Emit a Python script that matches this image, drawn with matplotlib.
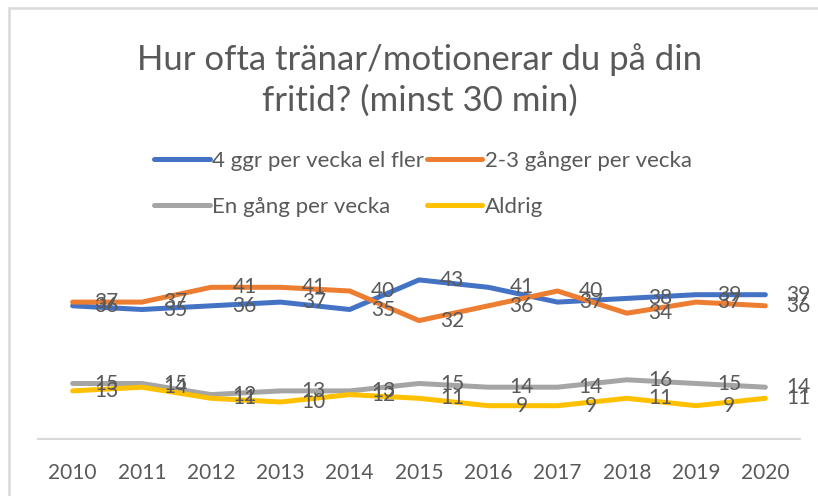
import matplotlib
matplotlib.use("Agg")
import matplotlib.pyplot as plt
from matplotlib.patches import Rectangle

plt.rcParams['font.family'] = ['Lato', 'DejaVu Sans']

years = ["2010", "2011", "2012", "2013", "2014", "2015", "2016", "2017", "2018", "2019", "2020"]

fyra_ggr = [36, 35, 36, 37, 35, 43, 41, 37, 38, 39, 39]
tva_tre_ggr = [37, 37, 41, 41, 40, 32, 36, 40, 34, 37, 36]
en_gang = [15, 15, 12, 13, 13, 15, 14, 14, 16, 15, 14]
aldrig = [13, 14, 11, 10, 12, 11, 9, 9, 11, 9, 11]

series = [
    ("4 ggr per vecka el fler", fyra_ggr, "#4472C4"),
    ("2-3 gånger per vecka", tva_tre_ggr, "#ED7D31"),
    ("En gång per vecka", en_gang, "#A5A5A5"),
    ("Aldrig", aldrig, "#FFC000"),
]

TEXT = "#595959"

fig = plt.figure(figsize=(8.18, 4.96), dpi=100)
ax = fig.add_axes([38 / 818, 57 / 496, 762 / 818, 185 / 496])

x = list(range(len(years)))
lines = []
for name, vals, color in series:
    ln, = ax.plot(x, vals, color=color, lw=3.6, label=name,
                  solid_capstyle="round", solid_joinstyle="round")
    lines.append(ln)

# data labels sit to the right of each point (like the excel chart)
for name, vals, color in series:
    for xi, v in zip(x, vals):
        ax.annotate(str(v), (xi, v), xytext=(24, 0), textcoords="offset points",
                    ha="center", va="center", fontsize=15, color=TEXT,
                    annotation_clip=False)

ax.set_xlim(-0.5, len(years) - 0.5)
ax.set_ylim(0, 50)
ax.set_xticks(x)
ax.set_xticklabels(years, fontsize=15, color=TEXT)
ax.set_yticks([])
ax.tick_params(axis="x", length=0, pad=17)
for s in ["top", "left", "right"]:
    ax.spines[s].set_visible(False)
ax.spines["bottom"].set_color("#D9D9D9")
ax.spines["bottom"].set_linewidth(1.5)

fig.text(420 / 818, 1 - 80 / 496, "Hur ofta tränar/motionerar du på din\nfritid? (minst 30 min)",
         ha="center", va="center", fontsize=25, color=TEXT, linespacing=1.32)

# legend fills row by row in the reference -> reorder for matplotlib's column fill
order = [0, 2, 1, 3]
leg = fig.legend([lines[i] for i in order], [series[i][0] for i in order],
                 loc="center left", bbox_to_anchor=(143 / 818, 1 - 184 / 496), ncol=2,
                 frameon=False, fontsize=16, handlelength=2.5, handletextpad=0.12,
                 columnspacing=0.1, labelspacing=1.15, borderpad=0)
for t in leg.get_texts():
    t.set_color(TEXT)

# chart border
fig.patches.append(Rectangle((9 / 818, -0.1), 1.2, 1.1 - 8 / 496, transform=fig.transFigure,
                             fill=False, edgecolor="#D9D9D9", lw=1.8))

fig.savefig("out.png", dpi=100)
